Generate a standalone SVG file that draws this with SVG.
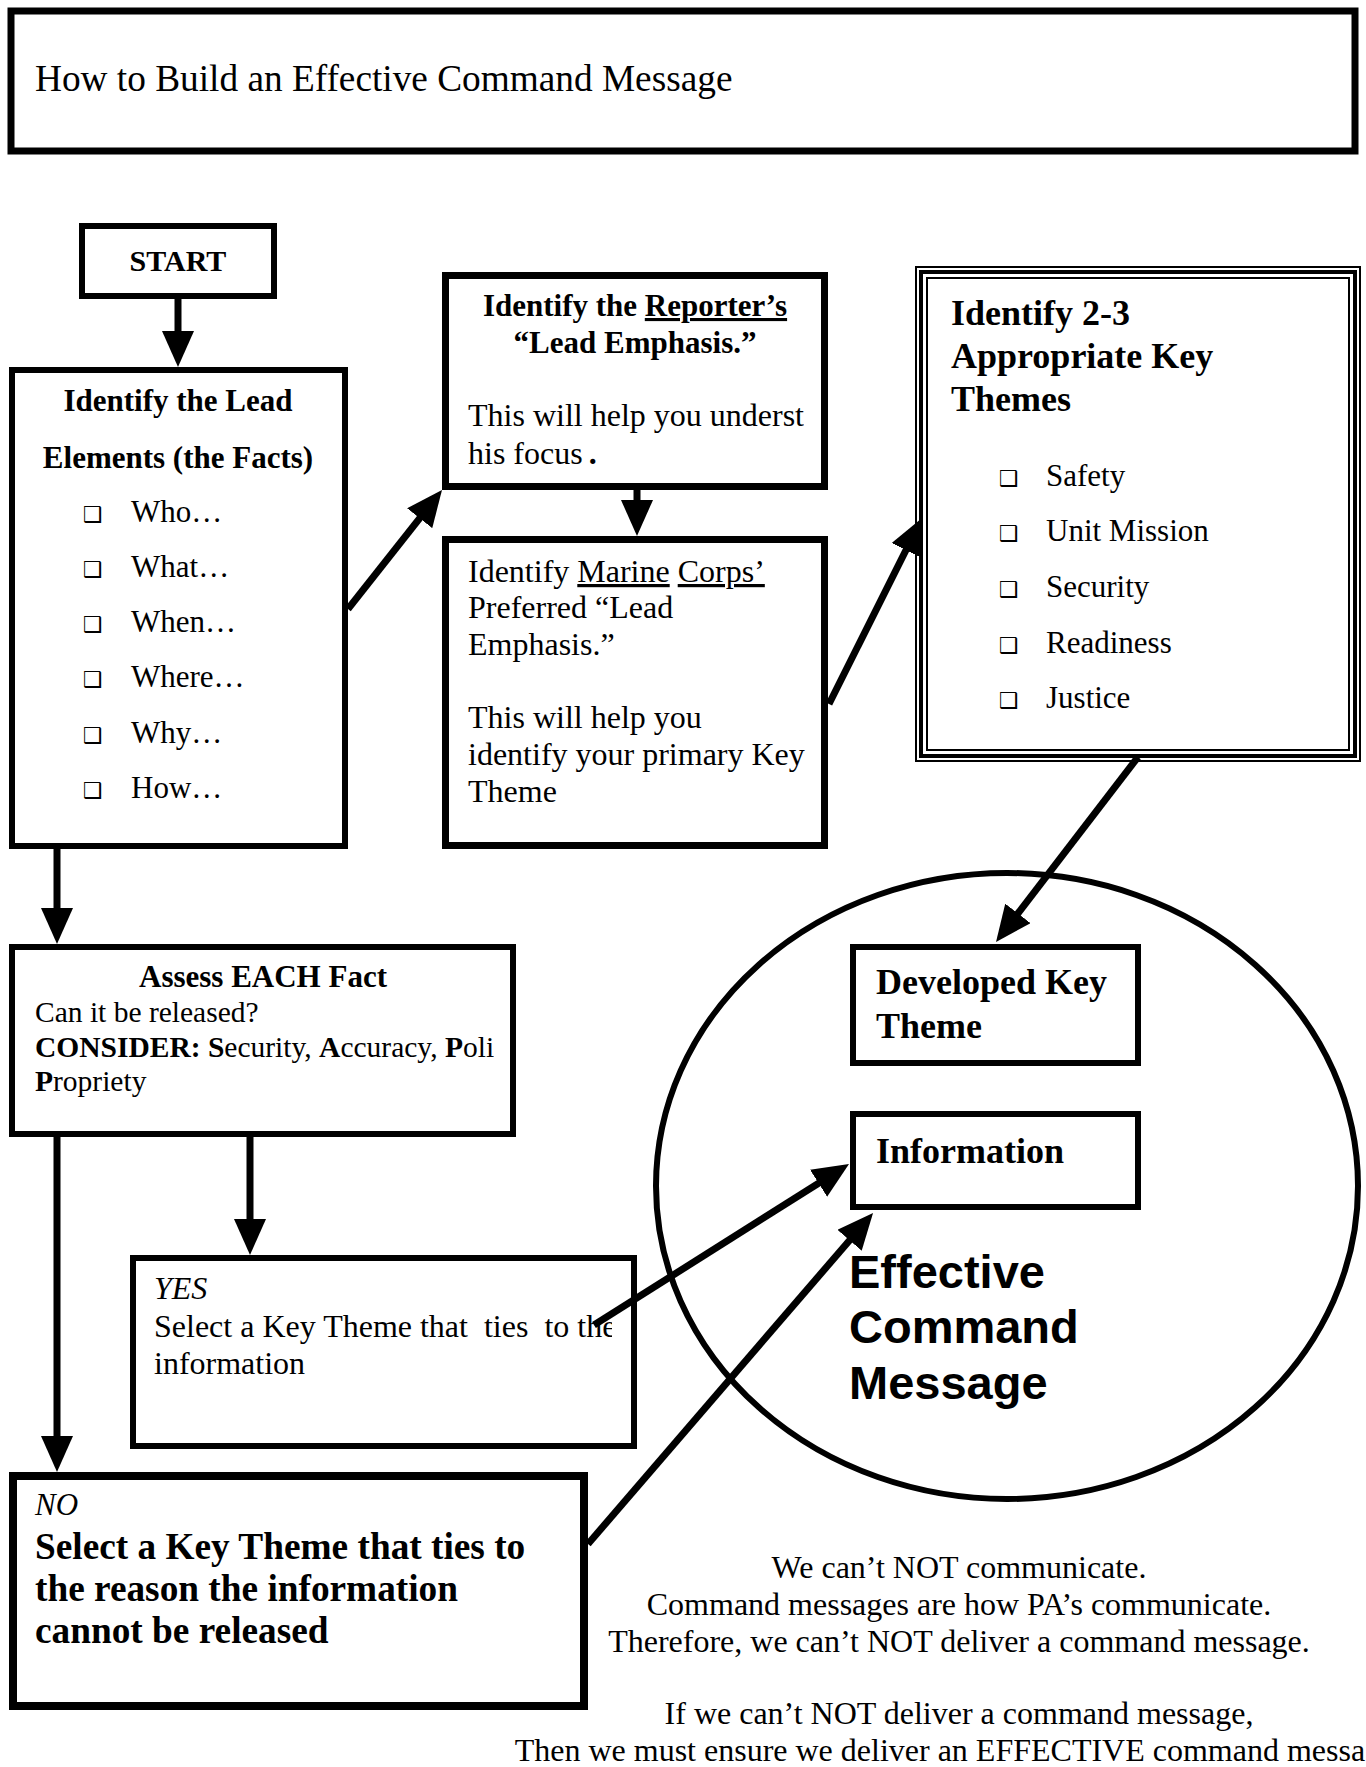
<svg xmlns="http://www.w3.org/2000/svg" width="1366" height="1767" viewBox="0 0 1366 1767">
<style>
.box{fill:#fff;stroke:#000}
.t{font-family:"Liberation Serif","Times New Roman",serif;fill:#000}
.b{font-weight:bold}
.i{font-style:italic}
.blt{font-family:"DejaVu Sans",sans-serif;font-size:22px;fill:#000}
.con{stroke:#000;stroke-width:7;fill:none;marker-end:url(#ah)}
.u{text-decoration:underline}
</style>
<defs>
<marker id="ah" markerUnits="userSpaceOnUse" viewBox="0 0 36 32" refX="16" refY="16" markerWidth="36" markerHeight="32" orient="auto">
<path d="M0,0 L36,16 L0,32 z" fill="#000"/>
</marker>
<clipPath id="cR"><rect x="446" y="276" width="358" height="210"/></clipPath>
<clipPath id="cA"><rect x="12" y="947" width="482" height="187"/></clipPath>
<clipPath id="cY"><rect x="133" y="1258" width="479" height="188"/></clipPath>
</defs>

<g id="title">
<rect class="box" x="11" y="11" width="1344" height="140" stroke-width="7"/>
<text class="t" x="35" y="91" font-size="37.3">How to Build an Effective Command Message</text>
</g>

<g id="start">
<rect class="box" x="82" y="226" width="192" height="70" stroke-width="6"/>
<text class="t b" x="178" y="271" font-size="30" text-anchor="middle">START</text>
</g>

<g id="lead">
<rect class="box" x="12" y="370" width="333" height="476" stroke-width="6"/>
<text class="t b" x="178" y="411" font-size="31" text-anchor="middle">Identify the Lead</text>
<text class="t b" x="178" y="468" font-size="31" text-anchor="middle">Elements (the Facts)</text>
<g class="blt"><text x="83" y="522">❑</text><text x="83" y="577">❑</text><text x="83" y="632">❑</text><text x="83" y="687">❑</text><text x="83" y="743">❑</text><text x="83" y="798">❑</text></g>
<g class="t" font-size="31">
<text x="131" y="522">Who…</text>
<text x="131" y="577">What…</text>
<text x="131" y="632">When…</text>
<text x="131" y="687">Where…</text>
<text x="131" y="743">Why…</text>
<text x="131" y="798">How…</text>
</g>
</g>

<g id="reporter">
<rect class="box" x="445.5" y="275.5" width="379" height="211" stroke-width="7"/>
<g clip-path="url(#cR)">
<text class="t b" x="635" y="316" font-size="31" text-anchor="middle">Identify the <tspan class="u">Reporter’s</tspan></text>
<text class="t b" x="635" y="353" font-size="31" text-anchor="middle">“Lead Emphasis.”</text>
<text class="t" x="468" y="426" font-size="32">This will help you understand</text>
<text class="t" x="468" y="464" font-size="32">his focus<tspan class="b" dx="6">.</tspan></text>
</g>
</g>

<g id="marine">
<rect class="box" x="445.5" y="539.5" width="379" height="306" stroke-width="7"/>
<g class="t" font-size="32">
<text x="468" y="582">Identify <tspan class="u">Marine</tspan> <tspan class="u">Corps’</tspan></text>
<text x="468" y="618">Preferred “Lead</text>
<text x="468" y="655">Emphasis.”</text>
<text x="468" y="728">This will help you</text>
<text x="468" y="765">identify your primary Key</text>
<text x="468" y="802">Theme</text>
</g>
</g>

<g id="themes">
<rect class="box" x="916" y="267" width="444" height="494" stroke-width="2"/>
<rect x="921" y="272" width="434" height="484" fill="none" stroke="#000" stroke-width="4"/>
<rect x="927" y="278" width="422" height="472" fill="none" stroke="#000" stroke-width="2"/>
<g class="t b" font-size="36">
<text x="951" y="325">Identify 2-3</text>
<text x="951" y="368">Appropriate Key</text>
<text x="951" y="411">Themes</text>
</g>
<g class="blt"><text x="999" y="486">❑</text><text x="999" y="541">❑</text><text x="999" y="597">❑</text><text x="999" y="653">❑</text><text x="999" y="708">❑</text></g>
<g class="t" font-size="31">
<text x="1046" y="486">Safety</text>
<text x="1046" y="541">Unit Mission</text>
<text x="1046" y="597">Security</text>
<text x="1046" y="653">Readiness</text>
<text x="1046" y="708">Justice</text>
</g>
</g>

<g id="message">
<ellipse cx="1007" cy="1186" rx="351" ry="313" fill="none" stroke="#000" stroke-width="6"/>
<g font-family="'Liberation Sans',Arial,sans-serif" font-weight="bold" font-size="47" fill="#000">
<text x="849" y="1288">Effective</text>
<text x="849" y="1343">Command</text>
<text x="849" y="1399">Message</text>
</g>
</g>

<g id="developed">
<rect class="box" x="853" y="947" width="285" height="116" stroke-width="6"/>
<text class="t b" x="876" y="994" font-size="36">Developed Key</text>
<text class="t b" x="876" y="1038" font-size="36">Theme</text>
</g>

<g id="information">
<rect class="box" x="853" y="1114" width="285" height="93" stroke-width="6"/>
<text class="t b" x="876" y="1163" font-size="36">Information</text>
</g>

<g id="assess">
<rect class="box" x="12" y="947" width="501" height="187" stroke-width="6"/>
<text class="t b" x="263" y="987" font-size="31" text-anchor="middle">Assess EACH Fact</text>
<g clip-path="url(#cA)" class="t" font-size="29.5">
<text x="35" y="1022">Can it be released?</text>
<text x="35" y="1057"><tspan class="b">CONSIDER: S</tspan>ecurity, <tspan class="b">A</tspan>ccuracy, <tspan class="b">P</tspan>olicy,</text>
<text x="35" y="1091"><tspan class="b">P</tspan>ropriety</text>
</g>
</g>

<g id="yes">
<rect class="box" x="133" y="1258" width="501" height="188" stroke-width="6"/>
<g clip-path="url(#cY)" class="t" font-size="32">
<text class="i" x="154" y="1299">YES</text>
<text x="154" y="1337" style="white-space:pre">Select a Key Theme that  ties  to the</text>
<text x="154" y="1374">information</text>
</g>
</g>

<g id="no">
<rect class="box" x="13" y="1476" width="571" height="230" stroke-width="8"/>
<text class="t i" x="35" y="1515" font-size="31">NO</text>
<g class="t b" font-size="37.3">
<text x="35" y="1559">Select a Key Theme that ties to</text>
<text x="35" y="1601">the reason the information</text>
<text x="35" y="1643">cannot be released</text>
</g>
</g>

<g id="note" class="t" font-size="32" text-anchor="middle">
<text x="959" y="1578">We can’t NOT communicate.</text>
<text x="959" y="1615">Command messages are how PA’s communicate.</text>
<text x="959" y="1652">Therefore, we can’t NOT deliver a command message.</text>
<text x="959" y="1724">If we can’t NOT deliver a command message,</text>
<text x="959" y="1761">Then we must ensure we deliver an EFFECTIVE command message.</text>
</g>

<g id="connectors">
<line class="con" x1="178" y1="299" x2="178" y2="347"/>
<line class="con" x1="348" y1="609" x2="429.6" y2="505.7"/>
<line class="con" x1="637" y1="488" x2="637" y2="516"/>
<line class="con" x1="829" y1="704" x2="913.1" y2="535.9"/>
<line class="con" x1="1138" y1="757" x2="1008.2" y2="926.1"/>
<line class="con" x1="57" y1="849" x2="57" y2="924"/>
<line class="con" x1="250" y1="1137" x2="250" y2="1235"/>
<line class="con" x1="57" y1="1137" x2="57" y2="1452"/>
<line class="con" x1="594" y1="1325" x2="832.1" y2="1174.7"/>
<line class="con" x1="588" y1="1544" x2="860" y2="1228.2"/>
</g>
</svg>
